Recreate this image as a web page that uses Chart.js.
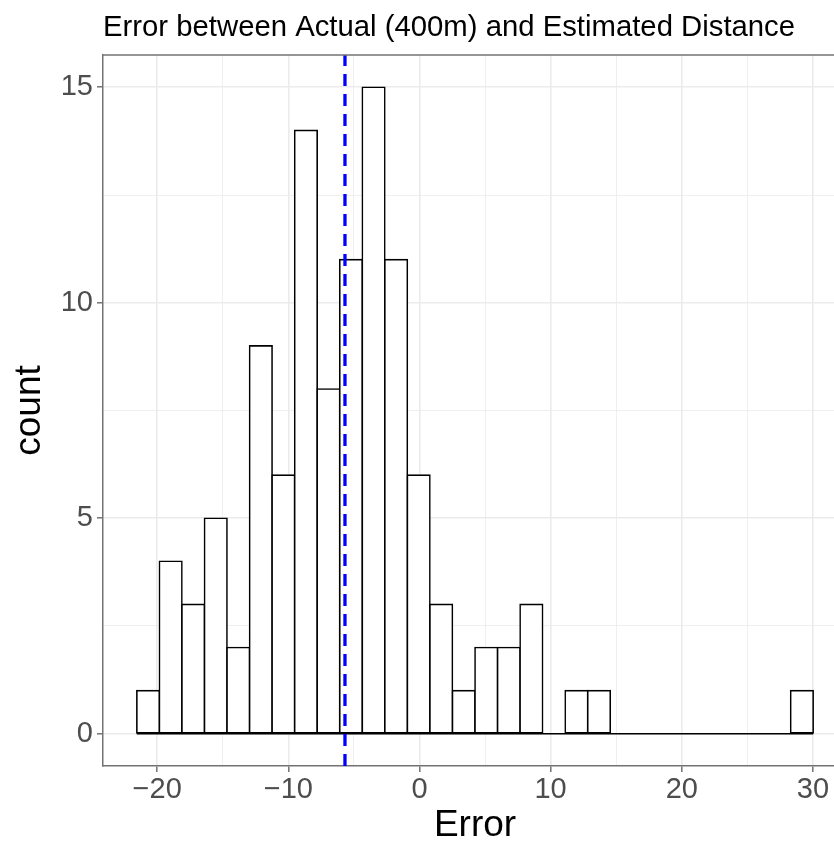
<!DOCTYPE html>
<html>
<head>
<meta charset="utf-8">
<script src="https://cdn.jsdelivr.net/npm/chart.js@4.4.1/dist/chart.umd.min.js"></script>
<style>
  html, body { margin: 0; padding: 0; background: #fff; overflow: hidden; }
  #wrap { position: absolute; left: 0; top: 0; width: 860px; height: 841px; }
</style>
</head>
<body>
<div id="wrap"><canvas id="histChart"></canvas></div>
<script>
// histogram bins (30 bins)
const binStart = -21.55;
const binWidth = 1.719;
const counts = [1, 4, 3, 5, 2, 9, 6, 14, 8, 11, 15, 11, 6, 3, 1, 2, 2, 3, 0, 1, 1, 0, 0, 0, 0, 0, 0, 0, 0, 1];
const meanError = -5.68;

const xMajor = [-20, -10, 0, 10, 20, 30];
const xMinor = [-15, -5, 5, 15, 25];
const yMajor = [0, 5, 10, 15];
const yMinor = [2.5, 7.5, 12.5];
const xMin = -24.13, xMax = 32.6;
const yMin = -0.75, yMax = 15.75;

const binEnd = binStart + binWidth * counts.length;
const barData = counts.map(function (c, i) {
  return { x: binStart + binWidth * (i + 0.5), y: c };
});

const FONT = "'Liberation Sans', Arial, sans-serif";
const gridCol = '#EBEBEB';
const axisCol = '#737373';

function isMajor(list, v) {
  return list.some(function (m) { return Math.abs(m - v) < 1e-6; });
}
function fmt(v) {
  return v < 0 ? '\u2212' + Math.abs(v) : String(v);
}

// top edge of the panel (left/bottom come from the axis borders)
const panelTop = {
  id: 'panelTop',
  afterDraw: function (chart) {
    const a = chart.chartArea;
    const ctx = chart.ctx;
    ctx.save();
    ctx.strokeStyle = axisCol;
    ctx.lineWidth = 1.5;
    ctx.beginPath();
    ctx.moveTo(a.left, a.top);
    ctx.lineTo(a.right, a.top);
    ctx.stroke();
    ctx.restore();
  }
};

new Chart(document.getElementById('histChart'), {
  type: 'bar',
  data: {
    datasets: [
      {
        type: 'line',
        data: [{ x: meanError, y: yMin }, { x: meanError, y: yMax }],
        borderColor: '#0000FF',
        borderWidth: 3.3,
        borderDash: [12, 8],
        pointRadius: 0,
        order: 1
      },
      {
        type: 'line',
        data: [{ x: binStart, y: 0 }, { x: binEnd, y: 0 }],
        borderColor: '#000',
        borderWidth: 1.6,
        pointRadius: 0,
        order: 2
      },
      {
        data: barData,
        backgroundColor: '#fff',
        borderColor: '#000',
        borderWidth: 1.6,
        borderSkipped: false,
        inflateAmount: 0.8,
        barPercentage: 1,
        categoryPercentage: 1,
        order: 3
      }
    ]
  },
  options: {
    responsive: true,
    maintainAspectRatio: false,
    animation: false,
    // panel runs a little past the right edge of the picture, as in the original
    layout: { padding: { left: 0, right: 13, top: 0, bottom: 0 } },
    plugins: {
      legend: { display: false },
      tooltip: { enabled: false },
      title: {
        display: true,
        text: 'Error between Actual (400m) and Estimated Distance',
        align: 'start',
        fullSize: false,
        color: '#000',
        font: { family: FONT, size: 29.3, weight: 'normal', lineHeight: 1.2 },
        padding: { top: 10.6, bottom: 9.2 }
      }
    },
    scales: {
      x: {
        type: 'linear',
        min: xMin,
        max: xMax,
        offset: false,
        afterFit: function (s) { s.height = 75; },
        afterBuildTicks: function (s) {
          s.ticks = xMajor.concat(xMinor).sort(function (a, b) { return a - b; })
            .map(function (v) { return { value: v }; });
        },
        ticks: {
          autoSkip: false,
          maxRotation: 0,
          padding: 1,
          color: '#4D4D4D',
          font: { family: FONT, size: 29 },
          callback: function (v) { return isMajor(xMajor, v) ? fmt(v) : ''; }
        },
        grid: {
          offset: false,
          color: gridCol,
          lineWidth: function (c) { return isMajor(xMajor, c.tick.value) ? 1.6 : 0.8; },
          tickLength: 6,
          tickWidth: 1.5,
          tickColor: function (c) { return isMajor(xMajor, c.tick.value) ? axisCol : 'rgba(0,0,0,0)'; }
        },
        border: { display: true, color: axisCol, width: 1.5 },
        title: {
          display: true,
          text: 'Error',
          color: '#000',
          font: { family: FONT, size: 37, lineHeight: 1 },
          padding: { top: 0, bottom: -3 }
        }
      },
      y: {
        type: 'linear',
        min: yMin,
        max: yMax,
        afterFit: function (s) { s.width = 103; },
        afterBuildTicks: function (s) {
          s.ticks = yMajor.concat(yMinor).sort(function (a, b) { return a - b; })
            .map(function (v) { return { value: v }; });
        },
        ticks: {
          autoSkip: false,
          padding: 4,
          color: '#4D4D4D',
          font: { family: FONT, size: 29 },
          callback: function (v) { return isMajor(yMajor, v) ? fmt(v) : ''; }
        },
        grid: {
          color: gridCol,
          lineWidth: function (c) { return isMajor(yMajor, c.tick.value) ? 1.6 : 0.8; },
          tickLength: 6,
          tickWidth: 1.5,
          tickColor: function (c) { return isMajor(yMajor, c.tick.value) ? axisCol : 'rgba(0,0,0,0)'; }
        },
        border: { display: true, color: axisCol, width: 1.5 },
        title: {
          display: true,
          text: 'count',
          color: '#000',
          font: { family: FONT, size: 37, lineHeight: 1 },
          padding: { top: 11, bottom: 0 }
        }
      }
    }
  },
  plugins: [panelTop]
});
</script>
</body>
</html>
